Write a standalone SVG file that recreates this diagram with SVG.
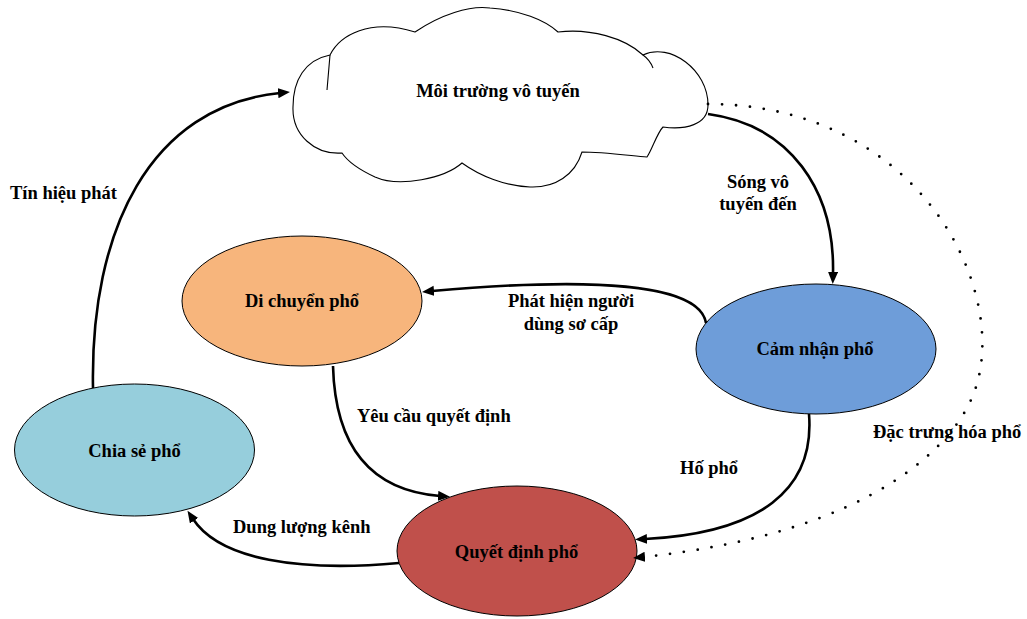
<svg xmlns="http://www.w3.org/2000/svg" width="1027" height="619" viewBox="0 0 1027 619">
  <style>
    .lbl { font-family: "Liberation Serif", "Times New Roman", serif; font-weight: bold; font-size: 18.5px; fill: #000; }
    .node { stroke: #000; stroke-width: 1; }
    .edge { fill: none; stroke: #000; stroke-width: 2.6; }
    .dotted { fill: none; stroke: #000; stroke-width: 2.8; stroke-linecap: round; stroke-dasharray: 0 14; }
    .cloud { fill: #fff; stroke: #000; stroke-width: 1.1; }
  </style>
  <defs>
    <marker id="arrow" markerUnits="userSpaceOnUse" markerWidth="13" markerHeight="11" refX="2" refY="5" orient="auto">
      <path d="M0,0 L12,5 L0,10 z" fill="#000"/>
    </marker>
  </defs>

  <rect width="1027" height="619" fill="#fff"/>

  <!-- Radio environment cloud -->
  <g id="moi-truong">
    <path class="cloud" d="M 330,55 C 340,35 370,18 415,32 C 440,15 470,5 490,8 C 520,10 545,20 558,32 C 590,28 625,38 643,55 C 670,42 708,70 708,105 C 708,125 685,130 663,127 C 657,133 652,150 647,157 C 625,155 600,152 582,152 C 575,175 555,188 530,187 C 505,186 480,176 462,163 C 445,178 400,188 375,177 C 360,170 348,162 342,153 C 315,155 292,135 293,107 C 293,80 305,60 330,55 Z"/>
    <path fill="none" stroke="#000" stroke-width="1.1" d="M 327,90 L 330,55 M 643,55 Q 650,60 653,68"/>
    <text class="lbl" x="498" y="97" text-anchor="middle">Môi trường vô tuyến</text>
  </g>

  <g id="di-chuyen">
    <ellipse class="node" cx="302" cy="301" rx="120" ry="65" fill="#F7B57C"/>
    <text class="lbl" x="302" y="307" text-anchor="middle">Di chuyển phổ</text>
  </g>

  <g id="cam-nhan">
    <ellipse class="node" cx="816" cy="349" rx="120" ry="65" fill="#6E9DD9"/>
    <text class="lbl" x="815" y="355" text-anchor="middle">Cảm nhận phổ</text>
  </g>

  <g id="chia-se">
    <ellipse class="node" cx="134.5" cy="450" rx="120" ry="66" fill="#96CEDC"/>
    <text class="lbl" x="134.5" y="457" text-anchor="middle">Chia sẻ phổ</text>
  </g>

  <g id="quyet-dinh">
    <ellipse class="node" cx="517" cy="551" rx="120" ry="65" fill="#C0504B"/>
    <text class="lbl" x="516.5" y="558" text-anchor="middle">Quyết định phổ</text>
  </g>

  <!-- Connectors -->
  <g id="connectors">
    <path class="edge" marker-end="url(#arrow)" d="M 93,388 C 90,230 150,106 280,93"/>
    <path class="edge" marker-end="url(#arrow)" d="M 708,114 C 790,125 835,190 833,274"/>
    <path class="edge" marker-end="url(#arrow)" d="M 706,323 C 700,285 600,276 432,291"/>
    <path class="edge" marker-end="url(#arrow)" d="M 333,366 C 335,440 365,490 440,496"/>
    <path class="edge" marker-end="url(#arrow)" d="M 809,414 C 815,490 760,533 645,539"/>
    <path class="edge" marker-end="url(#arrow)" d="M 399,563 C 300,572 220,560 193,519"/>
    <path class="dotted" d="M 708,104 C 920,105 1010,290 975,390 C 958,440 880,532 643,557"/>
    <path fill="none" stroke="none" marker-end="url(#arrow)" d="M 653,556 L 643,557"/>

    <text class="lbl" x="10" y="199">Tín hiệu phát</text>
    <text class="lbl" x="758" y="188" text-anchor="middle">Sóng vô</text>
    <text class="lbl" x="758" y="210" text-anchor="middle">tuyến đến</text>
    <text class="lbl" x="571" y="307" text-anchor="middle">Phát hiện người</text>
    <text class="lbl" x="571" y="330" text-anchor="middle">dùng sơ cấp</text>
    <text class="lbl" x="357" y="422">Yêu cầu quyết định</text>
    <text class="lbl" x="680" y="474">Hố phổ</text>
    <text class="lbl" x="233" y="533">Dung lượng kênh</text>
    <text class="lbl" x="873" y="438">Đặc trưng hóa phổ</text>
  </g>
</svg>
